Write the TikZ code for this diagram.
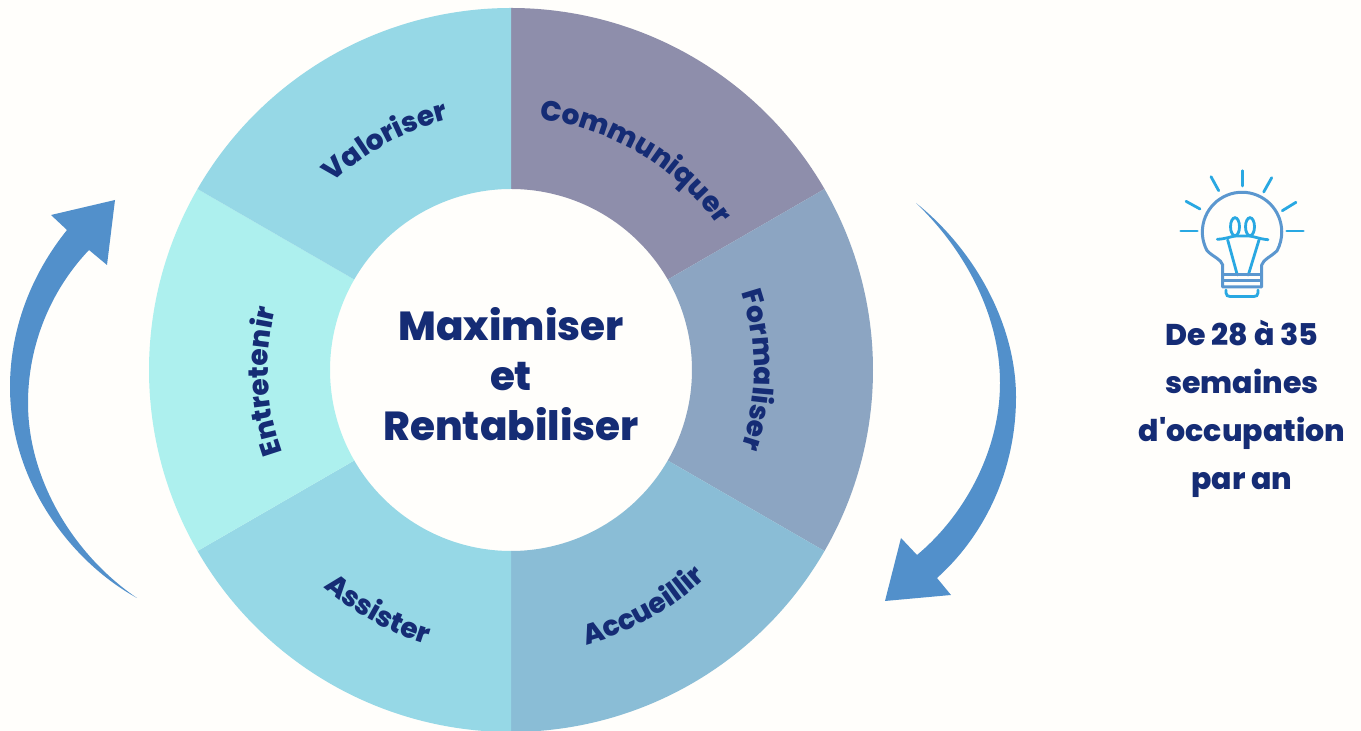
\documentclass[tikz,border=0pt]{standalone}
\usepackage{fontspec}
\usetikzlibrary{decorations.text}
\newfontfamily\labelfont{Poppins ExtraBold}
\definecolor{paper}{HTML}{FFFEFB}
\definecolor{ink}{HTML}{152C75}
\definecolor{arrowblue}{HTML}{5290CB}
\definecolor{glassblue}{HTML}{5B97CF}
\definecolor{rayblue}{HTML}{29A8E2}
\definecolor{valoriser}{HTML}{96D8E6}
\definecolor{communiquer}{HTML}{8E8EAB}
\definecolor{formaliser}{HTML}{8CA5C2}
\definecolor{accueillir}{HTML}{8ABDD6}
\definecolor{assister}{HTML}{96D8E6}
\definecolor{entretenir}{HTML}{ADF0EE}
\newcommand{\ringfont}{\labelfont\fontsize{28}{28}\selectfont\color{ink}}
\tikzset{
    ringlabel/.style={decorate, decoration={text along path, text align=center, text={#1}}},
    glass/.style={draw=glassblue, line width=3pt, line join=round},
    ray/.style={draw=rayblue, line width=2.8pt, line cap=round}
}

\begin{document}
\begin{tikzpicture}[x = 1pt, y = 1pt]
\useasboundingbox (0,0) rectangle (1361,731);
\fill[paper] (0,0) rectangle (1361,731);
\begin{scope}[shift={(511,361)}]
% Ring
    \fill[communiquer] (90:181) -- (90:362) arc (90:30:362) -- (30:181) arc (30:90:181) -- cycle;
    \fill[formaliser] (30:181) -- (30:362) arc (30:-30:362) -- (-30:181) arc (-30:30:181) -- cycle;
    \fill[accueillir] (-30:181) -- (-30:362) arc (-30:-90:362) -- (-90:181) arc (-90:-30:181) -- cycle;
    \fill[assister] (-90:181) -- (-90:362) arc (-90:-150:362) -- (-150:181) arc (-150:-90:181) -- cycle;
    \fill[entretenir] (-150:181) -- (-150:362) arc (-150:-210:362) -- (150:181) arc (150:210:181) -- cycle;
    \fill[valoriser] (150:181) -- (150:362) arc (150:90:362) -- (90:181) arc (90:150:181) -- cycle;
% Labels on the ring
    \path[ringlabel={|\ringfont|Valoriser}] (148.8:258) arc (148.8:88.8:258);
    \path[ringlabel={|\ringfont|Communiquer}] (89.3:252) arc (89.3:29.3:252);
    \path[ringlabel={|\ringfont|Formaliser}] (30:243) arc (30:-30:243);
    \path[ringlabel={|\ringfont|Accueillir}] (-90.8:285) arc (-90.8:-30.8:285);
    \path[ringlabel={|\ringfont|Assister}] (-149:287) arc (-149:-89:287);
    \path[ringlabel={|\ringfont|Entretenir}] (-147.3:243) arc (-147.3:-207.3:243);
% Centre
    \node[inner sep=0pt, align=center, text=ink, font=\labelfont\fontsize{40.5}{50}\selectfont] (centre) at (0,-4) {Maximiser\\et\\Rentabiliser};
\end{scope}
% Arrows
    \fill[arrowblue] (916,528) .. controls (975,481) and (1016,406) .. (1016,334)
        .. controls (1016,261) and (985,196) .. (937,153)
        -- (951,136) -- (885,130) -- (901,193) -- (917,176)
        .. controls (965,216) and (1000,281) .. (1000,348)
        .. controls (1000,416) and (965,481) .. cycle;
    \fill[arrowblue] (137,133) .. controls (70,170) and (10,250) .. (10,344)
        .. controls (10,400) and (30,455) .. (67,501)
        -- (51,516) -- (115,531) -- (107,466) -- (89,481)
        .. controls (50,440) and (28,385) .. (28,328)
        .. controls (28,250) and (75,175) .. cycle;
% Bulb
    \draw[ray] (1180.7,500) -- (1197.3,500);
    \draw[ray] (1286.7,500) -- (1303.3,500);
    \draw[ray] (1242.3,560.3) -- (1242.3,545);
    \draw[ray] (1211,554.3) -- (1218.7,540.3);
    \draw[ray] (1271.7,553.3) -- (1263.7,539);
    \draw[ray] (1186,529.7) -- (1200,522);
    \draw[ray] (1296,528.7) -- (1282.3,520.3);
    \draw[ray] (1235,504.3) ellipse (4.5 and 9);
    \draw[ray] (1250,504.3) ellipse (4.5 and 9);
    \draw[ray] (1217.3,491.7) .. controls (1226,492) and (1232,495) .. (1236,495) -- (1249,495) .. controls (1253,495) and (1259,492) .. (1268,491.3);
    \draw[ray] (1227.7,491) -- (1237.3,456);
    \draw[ray] (1259,491) -- (1248.3,456);
    \draw[glass] (1222.7,466) .. controls (1221,472) and (1213,474) .. (1207,480.4) arc (208:-28:39.7) .. controls (1271,474) and (1263.4,472) .. (1261.7,466) -- (1261.7,444) -- (1222.7,444) -- cycle;
    \draw[glass] (1222.7,456) -- (1261.7,456);
    \draw[glass] (1222.7,450) -- (1261.7,450);
    \draw[ray] (1226,441) -- (1226,438) .. controls (1226,435.5) and (1228,434.5) .. (1230,434.5) -- (1254,434.5) .. controls (1256,434.5) and (1258,435.5) .. (1258,438) -- (1258,441);
% Occupation text
    \node[align=center, text=ink, font=\labelfont\fontsize{30}{48}\selectfont] (occupation) at (1242,322) {De 28 à 35\\semaines\\d'occupation\\par an};
\end{tikzpicture}
\end{document}
